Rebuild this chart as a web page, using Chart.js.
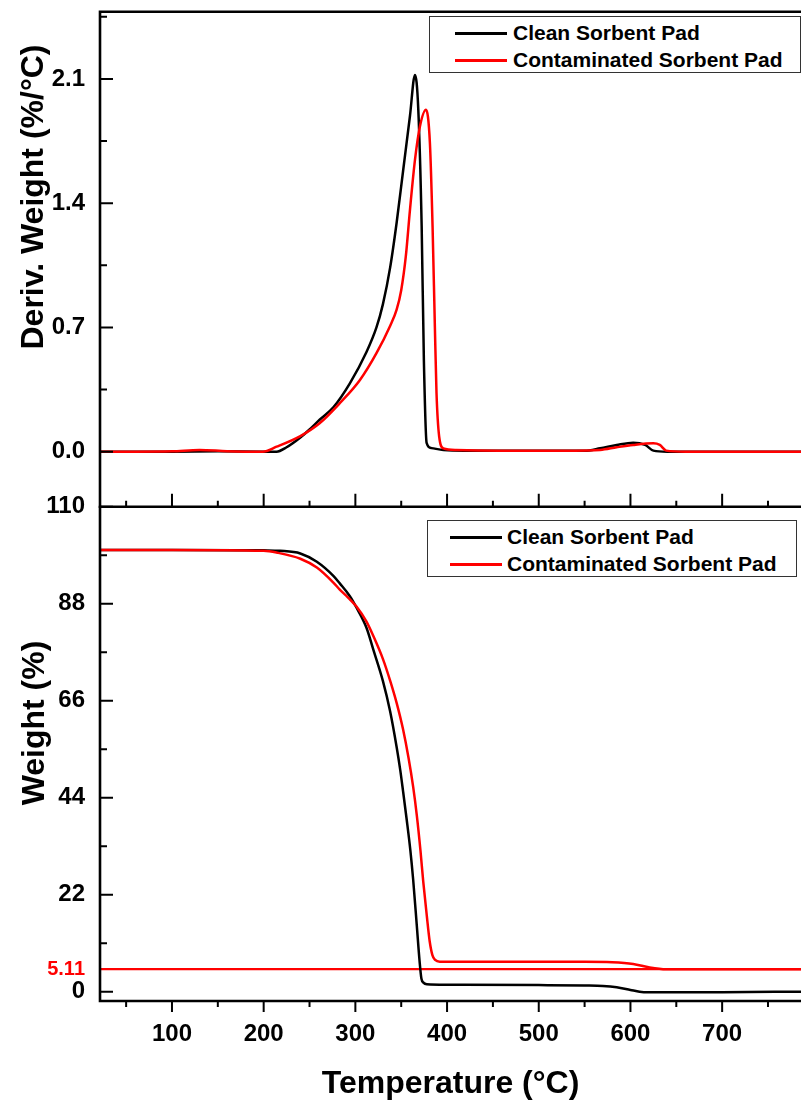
<!DOCTYPE html>
<html>
<head>
<meta charset="utf-8">
<script src="https://cdn.jsdelivr.net/npm/chart.js@4.4.1/dist/chart.umd.min.js"></script>
<style>
  html, body { margin: 0; padding: 0; background: #fff; }
  #wrap { position: relative; width: 801px; height: 1103px; overflow: hidden; font-family: 'Liberation Sans', Arial, sans-serif; }
  canvas { position: absolute; left: 0; top: 0; }
  .legend { position: absolute; border: 1px solid #333; background: #fff; box-sizing: border-box; }
  .legend .sw { position: absolute; height: 3px; }
  .legend .txt { position: absolute; font-weight: bold; font-size: 21px; line-height: 26px; white-space: nowrap; color: #000; }
</style>
</head>
<body>
<div id="wrap">
  <canvas id="derivChart" width="801" height="1103"></canvas>
  <canvas id="weightChart" width="801" height="1103"></canvas>
</div>
<script>
// series
var seriesNames = ['Clean Sorbent Pad', 'Contaminated Sorbent Pad'];
var seriesColors = ['#000000', '#ff0000'];

// axes
var tempMin = 21.5, tempMax = 786;
var tempTicks = [100, 200, 300, 400, 500, 600, 700];
var tempMinor = [50, 150, 250, 350, 450, 550, 650, 750];
var derivMin = -0.31, derivMax = 2.479;
var derivTicks = [0, 0.7, 1.4, 2.1];
var derivMinor = [0.35, 1.05, 1.75, 2.45];
var weightMin = -2.11, weightMax = 110;
var weightTicks = [0, 22, 44, 66, 88, 110];
var weightMinor = [11, 33, 55, 77, 99];
var residue = 5.11;

// DTG, clean pad
var derivTempClean = [21.5, 60, 100, 150, 200, 214, 225, 240, 250, 261, 276, 294, 312, 323, 330, 338, 345, 352, 359.5, 365, 368.6, 372.3, 374.7, 377.7, 383, 396, 450, 550, 567, 585, 603, 616, 625, 640, 700, 786];
var derivClean = [0, 0, 0, 0.002, 0, 0, 0.025, 0.08, 0.125, 0.18, 0.25, 0.385, 0.56, 0.7, 0.83, 1.04, 1.29, 1.58, 1.89, 2.123, 1.93, 1.27, 0.52, 0.05, 0.02, 0.01, 0.005, 0.005, 0.019, 0.038, 0.051, 0.038, 0.006, 0, 0, 0];
// DTG, contaminated pad
var derivTempCont = [21.5, 60, 100, 130, 160, 199, 214, 240, 261, 283, 305, 323, 338, 345, 350, 355, 359.5, 365, 370.4, 377, 381.3, 384.2, 386.7, 388.5, 391.4, 396, 410, 500, 567, 585, 603, 625, 632, 639, 660, 786];
var derivCont = [0, 0, 0.002, 0.01, 0.003, 0, 0.028, 0.088, 0.16, 0.273, 0.404, 0.555, 0.71, 0.8, 0.91, 1.1, 1.36, 1.644, 1.832, 1.926, 1.738, 1.268, 0.705, 0.329, 0.085, 0.019, 0.01, 0.005, 0.01, 0.025, 0.038, 0.047, 0.038, 0.006, 0, 0];

// TGA, clean pad
var weightTempClean = [21.5, 100, 200, 218, 240, 258, 276, 283, 294, 301, 312, 320, 330, 338, 345, 349, 352, 356, 360, 363, 367, 370, 372, 374.5, 378, 400, 500, 550, 570, 585, 600, 610, 618, 700, 786];
var weightClean = [100.2, 100.2, 100.1, 100.0, 99.4, 97.5, 94.3, 92.6, 89.7, 87.2, 82.6, 77.3, 70.5, 63.5, 55.5, 50.2, 45.5, 39, 32, 25.5, 15, 7, 3, 2.0, 1.7, 1.6, 1.5, 1.4, 1.3, 1.0, 0.4, 0, -0.15, -0.1, 0];
// TGA, contaminated pad
var weightTempCont = [21.5, 100, 200, 214, 240, 258, 276, 283, 289, 294, 301, 312, 320, 330, 338, 345, 352, 358, 363, 367, 371, 374, 378, 381, 384, 387, 392, 450, 550, 580, 603, 621, 639, 700, 786];
var weightCont = [100.2, 100.2, 100.0, 99.6, 98.2, 96.2, 92.8, 91.2, 90.0, 89.0, 87.4, 84.0, 80.5, 75.5, 70.5, 65.5, 59.5, 53, 46.5, 40, 32, 25, 17, 11.5, 8.3, 7.2, 6.8, 6.8, 6.8, 6.7, 6.3, 5.5, 5.1, 5.1, 5.1];

var FONT = "'Liberation Sans', Arial, sans-serif";
Chart.defaults.font.family = FONT;
Chart.defaults.color = '#000';

function pts(xs, ys) {
  return xs.map(function (x, i) { return { x: x, y: ys[i] }; });
}

function curve(label, color, xs, ys, order) {
  return {
    label: label, data: pts(xs, ys), borderColor: color, borderWidth: 2.5,
    pointRadius: 0, cubicInterpolationMode: 'monotone', order: order, fill: false
  };
}

// box, inward ticks and the rotated y title
var framePlugin = {
  id: 'frame',
  afterDraw: function (chart, args, o) {
    var ctx = chart.ctx, a = chart.chartArea, x = chart.scales.x, y = chart.scales.y;
    ctx.save();
    ctx.strokeStyle = '#000';
    ctx.lineWidth = 2;
    ctx.beginPath();
    o.yMajor.forEach(function (v) { var p = y.getPixelForValue(v); ctx.moveTo(a.left, p); ctx.lineTo(a.left + 13, p); });
    o.yMinor.forEach(function (v) { var p = y.getPixelForValue(v); ctx.moveTo(a.left, p); ctx.lineTo(a.left + 7, p); });
    var dir = o.xInward ? -1 : 1;
    tempTicks.forEach(function (v) { var p = x.getPixelForValue(v); ctx.moveTo(p, a.bottom); ctx.lineTo(p, a.bottom + dir * (o.xInward ? 13 : 11)); });
    tempMinor.forEach(function (v) { var p = x.getPixelForValue(v); ctx.moveTo(p, a.bottom); ctx.lineTo(p, a.bottom + dir * 6); });
    ctx.stroke();
    ctx.lineWidth = 2.6;
    ctx.beginPath();
    ctx.moveTo(a.left, a.top - 1); ctx.lineTo(a.left, a.bottom + 1.3);
    ctx.moveTo(a.left - 1.3, a.bottom); ctx.lineTo(a.right + 5, a.bottom);
    if (o.top) { ctx.moveTo(a.left - 1.3, a.top); ctx.lineTo(a.right + 5, a.top); }
    ctx.stroke();
    ctx.translate(o.titleX, o.titleY);
    ctx.rotate(-Math.PI / 2);
    ctx.font = 'bold 32px ' + FONT;
    ctx.fillStyle = '#000';
    ctx.textAlign = 'center';
    ctx.textBaseline = 'middle';
    ctx.fillText(o.title, 0, 0);
    ctx.restore();
  }
};

function yScale(min, max, ticks, fmt, color, size) {
  return {
    type: 'linear', position: 'left', min: min, max: max,
    grid: { display: false, drawTicks: false, tickLength: 0 },
    border: { display: false },
    afterBuildTicks: function (s) { s.ticks = ticks.map(function (v) { return { value: v }; }); },
    afterFit: function (s) { s.width = 100; s.paddingTop = 0; s.paddingBottom = 0; },
    ticks: {
      autoSkip: false, padding: 15, callback: fmt,
      color: color,
      font: size
    }
  };
}

new Chart(document.getElementById('derivChart'), {
  type: 'line',
  data: {
    datasets: [
      curve(seriesNames[0], seriesColors[0], derivTempClean, derivClean, 1),
      curve(seriesNames[1], seriesColors[1], derivTempCont, derivCont, 0)
    ]
  },
  options: {
    responsive: false, animation: false, devicePixelRatio: 1,
    layout: { padding: { top: 11.7, bottom: 1103 - 506.7, left: 0, right: 0 } },
    plugins: {
      legend: { display: false }, tooltip: { enabled: false },
      frame: { yMajor: derivTicks, yMinor: derivMinor, xInward: true, top: true, title: 'Deriv. Weight (%/°C)', titleX: 34, titleY: 197 }
    },
    scales: {
      x: { type: 'linear', min: tempMin, max: tempMax, display: false },
      y: yScale(derivMin, derivMax, derivTicks, function (v) { return v.toFixed(1); }, '#000', { size: 24, weight: 'bold' })
    }
  },
  plugins: [framePlugin]
});

var yTicksWeight = weightTicks.concat([residue]);

new Chart(document.getElementById('weightChart'), {
  type: 'line',
  data: {
    datasets: [
      curve(seriesNames[0], seriesColors[0], weightTempClean, weightClean, 1),
      curve(seriesNames[1], seriesColors[1], weightTempCont, weightCont, 0),
      { label: 'residue', data: pts([tempMin, tempMax], [residue, residue]), borderColor: seriesColors[1], borderWidth: 2.2, pointRadius: 0, order: 2 }
    ]
  },
  options: {
    responsive: false, animation: false, devicePixelRatio: 1,
    layout: { padding: { top: 506.7, bottom: 0, left: 0, right: 0 } },
    plugins: {
      legend: { display: false }, tooltip: { enabled: false },
      frame: { yMajor: weightTicks, yMinor: weightMinor, xInward: false, top: false, title: 'Weight (%)', titleX: 35, titleY: 723 }
    },
    scales: {
      x: {
        type: 'linear', min: tempMin, max: tempMax,
        grid: { display: false, drawTicks: false, tickLength: 0 },
        border: { display: false },
        afterBuildTicks: function (s) { s.ticks = tempTicks.map(function (v) { return { value: v }; }); },
        afterFit: function (s) { s.height = 102; s.paddingLeft = 0; s.paddingRight = 0; },
        ticks: { autoSkip: false, maxRotation: 0, padding: 19, font: { size: 24, weight: 'bold' } },
        title: { display: true, text: 'Temperature (°C)', font: { size: 32, weight: 'bold' }, padding: { top: 0, bottom: 0 } }
      },
      y: yScale(weightMin, weightMax, yTicksWeight,
        function (v) { return v === residue ? '5.11' : String(v); },
        function (c) { return c.tick && c.tick.value === residue ? '#ff0000' : '#000'; },
        function (c) { return { size: c.tick && c.tick.value === residue ? 20 : 24, weight: 'bold' }; })
    }
  },
  plugins: [framePlugin]
});

// boxed legends
function legend(left, top, width, height, lineX, textX, rows) {
  var box = document.createElement('div');
  box.className = 'legend';
  box.style.left = left + 'px'; box.style.top = top + 'px';
  box.style.width = width + 'px'; box.style.height = height + 'px';
  seriesNames.forEach(function (name, i) {
    var sw = document.createElement('div');
    sw.className = 'sw';
    sw.style.left = lineX + 'px'; sw.style.width = '52px';
    sw.style.top = (rows[i] - 1.5) + 'px';
    sw.style.background = seriesColors[i];
    var t = document.createElement('div');
    t.className = 'txt';
    t.style.left = textX + 'px'; t.style.top = (rows[i] - 13) + 'px';
    t.textContent = name;
    box.appendChild(sw); box.appendChild(t);
  });
  document.getElementById('wrap').appendChild(box);
}
legend(429, 16, 372, 57, 25, 83, [16, 43]);
legend(427, 520, 370, 57, 22, 79, [16, 43]);
</script>
</body>
</html>
